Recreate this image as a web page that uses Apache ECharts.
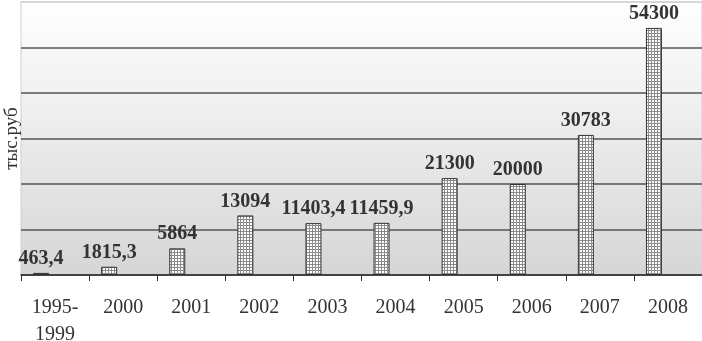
<!DOCTYPE html>
<html>
<head>
<meta charset="utf-8">
<script src="https://cdn.jsdelivr.net/npm/echarts@6/dist/echarts.min.js"></script>
<style>
html, body { margin: 0; padding: 0; background: #fff; }
#chart { width: 702px; height: 341px; }
</style>
</head>
<body>
<div id="chart"></div>
<script>
var categories = ['1995-\n1999', '2000', '2001', '2002', '2003', '2004', '2005', '2006', '2007', '2008'];
var values = [463.4, 1815.3, 5864, 13094, 11403.4, 11459.9, 21300, 20000, 30783, 54300];
var yName = 'тыс.руб';

// checkered fill for the bars
var pat = document.createElement('canvas');
pat.width = 3;
pat.height = 3;
var pctx = pat.getContext('2d');
pctx.fillStyle = '#ffffff';
pctx.fillRect(0, 0, 3, 3);
pctx.fillStyle = '#8a8a8a';
pctx.fillRect(0, 0, 3, 1);
pctx.fillRect(0, 0, 1, 3);

var serif = '"Liberation Serif", "DejaVu Serif", serif';

var chart = echarts.init(document.getElementById('chart'));
var option = {
    animation: false,
    grid: {
        show: true,
        left: 21,
        right: 0,
        top: 2,
        bottom: 66,
        containLabel: false,
        outerBoundsMode: 'none',
        borderColor: '#d0d0d0',
        borderWidth: 1,
        backgroundColor: {
            type: 'linear', x: 0, y: 0, x2: 0, y2: 1,
            colorStops: [
                {offset: 0, color: '#ffffff'},
                {offset: 1, color: '#d6d6d6'}
            ]
        }
    },
    xAxis: {
        type: 'category',
        data: categories,
        axisLine: { lineStyle: { color: '#333', width: 1.5 } },
        axisTick: { show: true, length: 6, lineStyle: { color: '#333' } },
        axisLabel: {
            fontFamily: serif,
            fontSize: 20,
            color: '#333',
            lineHeight: 27,
            margin: 19,
            interval: 0
        }
    },
    yAxis: {
        type: 'value',
        min: 0,
        max: 60000,
        interval: 10000,
        name: yName,
        nameLocation: 'middle',
        nameGap: -1,
        nameTextStyle: { fontFamily: serif, fontSize: 19, color: '#333' },
        axisLine: { show: false },
        axisTick: { show: false },
        axisLabel: { show: false },
        splitLine: {
            lineStyle: {
                color: ['#555', '#555', '#555', '#555', '#555', '#555', '#d0d0d0'],
                width: 1.5
            }
        }
    },
    series: [
        {
            type: 'bar',
            data: values,
            barWidth: 16,
            barGap: '75%',
            itemStyle: {
                color: { image: pat, repeat: 'repeat' },
                borderColor: '#333',
                borderWidth: 1
            },
            label: {
                show: true,
                position: 'top',
                distance: 4,
                fontFamily: serif,
                fontSize: 20,
                fontWeight: 'bold',
                color: '#333',
                formatter: function (p) { return String(p.value).replace('.', ','); }
            }
        },
        {
            type: 'bar',
            data: values.map(function () { return null; }),
            barWidth: 16,
            silent: true
        }
    ]
};
chart.setOption(option);
</script>
</body>
</html>
